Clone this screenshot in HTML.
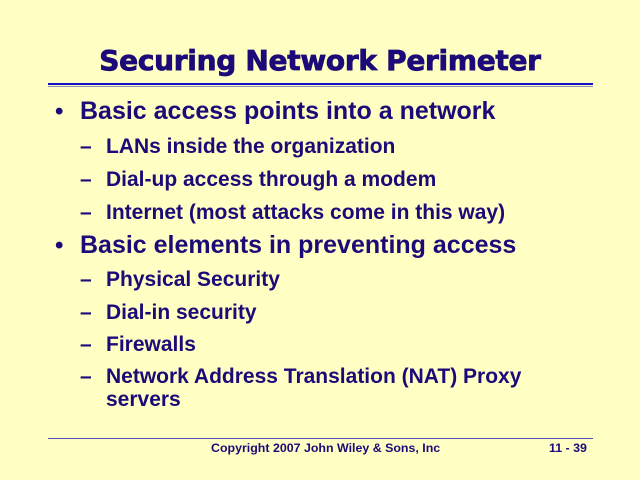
<!DOCTYPE html>
<html><head><meta charset="utf-8"><style>
body{margin:0;width:640px;height:480px;background:#FFFFC4;position:relative;overflow:hidden;font-family:"Liberation Sans",Arial,sans-serif;color:#1C0A78;font-weight:bold}
div{position:absolute;white-space:nowrap}
.t{left:0;width:640px;text-align:center;top:44px;font-family:"DejaVu Sans",Verdana,sans-serif;font-size:28px;font-weight:bold;-webkit-text-stroke:0.8px #1C0A78;letter-spacing:-0.3px}
.l1{font-size:25px;left:80px}
.l2{font-size:21px;left:106px}
.b{left:55px;font-size:24px}
.d{left:80px;font-size:21px}
</style></head><body>
<div class="t">Securing Network Perimeter</div>
<div style="left:48px;top:83px;width:545px;height:2px;background:#1010C8"></div>
<div style="left:48px;top:86px;width:545px;height:1px;background:#9090B8"></div>
<div class="b" style="top:98px">•</div><div class="l1" style="top:97px">Basic access points into a network</div>
<div class="d" style="top:135px">–</div><div class="l2" style="top:135px">LANs inside the organization</div>
<div class="d" style="top:168px">–</div><div class="l2" style="top:168px">Dial-up access through a modem</div>
<div class="d" style="top:201px">–</div><div class="l2" style="top:201px">Internet (most attacks come in this way)</div>
<div class="b" style="top:232px">•</div><div class="l1" style="top:231px">Basic elements in preventing access</div>
<div class="d" style="top:268px">–</div><div class="l2" style="top:268px">Physical Security</div>
<div class="d" style="top:301px">–</div><div class="l2" style="top:301px">Dial-in security</div>
<div class="d" style="top:333px">–</div><div class="l2" style="top:333px">Firewalls</div>
<div class="d" style="top:365px">–</div><div class="l2" style="top:365px">Network Address Translation (NAT) Proxy</div>
<div class="l2" style="top:388px">servers</div>
<div style="left:48px;top:438px;width:545px;height:1px;background:#5050C0"></div>
<div style="left:211px;top:441px;font-size:12.4px">Copyright 2007 John Wiley &amp; Sons, Inc</div>
<div style="left:549px;top:441px;font-size:12.4px">11 - 39</div>
</body></html>
